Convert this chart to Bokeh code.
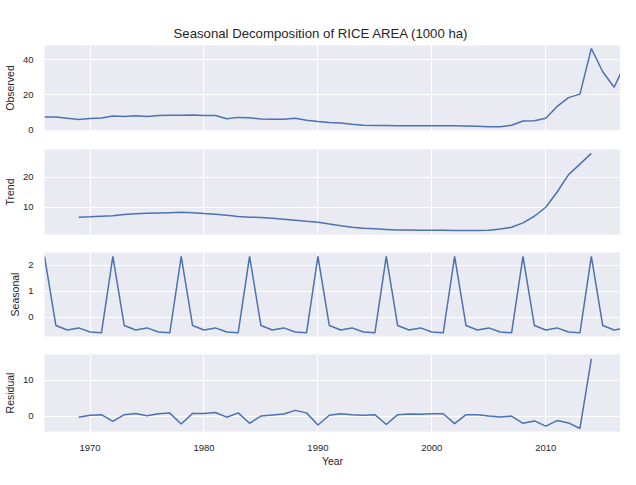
from bokeh.plotting import figure
from bokeh.layouts import column
from bokeh.models import FixedTicker, Range1d, Title
from bokeh.embed import file_html
from bokeh.resources import INLINE

# ---- data ----
years = list(range(1966, 2018))
observed = [7.4, 7.4, 6.7, 6.0, 6.5, 6.8, 8.0, 7.7, 8.1, 7.7,
            8.2, 8.4, 8.4, 8.6, 8.2, 8.3, 6.4, 7.2, 7.0, 6.3,
            6.2, 6.2, 6.7, 5.6, 4.8, 4.3, 4.0, 3.3, 2.7, 2.6,
            2.6, 2.5, 2.5, 2.4, 2.4, 2.4, 2.4, 2.3, 2.1, 1.9,
            1.9, 2.7, 5.1, 5.3, 6.7, 13.4, 18.4, 20.4, 46.3, 33.1,
            24.3, 38.0]

years_inner = list(range(1969, 2015))
trend = [6.7, 6.8, 7.0, 7.2, 7.6, 7.8, 8.0, 8.1, 8.2, 8.3,
         8.2, 7.9, 7.7, 7.3, 6.9, 6.7, 6.6, 6.3, 6.0, 5.7,
         5.3, 5.0, 4.4, 3.8, 3.3, 3.0, 2.8, 2.6, 2.4, 2.4,
         2.3, 2.3, 2.3, 2.2, 2.2, 2.2, 2.3, 2.7, 3.3, 4.8,
         7.0, 10.0, 15.1, 20.9, 24.4, 28.0]

seasonal = [2.34, -0.31, -0.48, -0.40, -0.56, -0.59,
            2.34, -0.31, -0.48, -0.40, -0.56, -0.59,
            2.34, -0.31, -0.48, -0.40, -0.56, -0.59,
            2.34, -0.31, -0.48, -0.40, -0.56, -0.59,
            2.34, -0.31, -0.48, -0.40, -0.56, -0.59,
            2.34, -0.31, -0.48, -0.40, -0.56, -0.59,
            2.34, -0.31, -0.48, -0.40, -0.56, -0.59,
            2.34, -0.31, -0.48, -0.40, -0.56, -0.59,
            2.34, -0.31, -0.48, -0.40]

residual = [-0.3, 0.25, 0.4, -1.5, 0.4, 0.75, 0.1, 0.67, 0.84, -2.2,
            0.75, 0.75, 1.0, -0.3, 0.9, -2.0, 0.0, 0.33, 0.6, 1.6,
            0.9, -2.5, 0.25, 0.67, 0.4, 0.25, 0.4, -2.35, 0.4, 0.6,
            0.5, 0.67, 0.67, -2.1, 0.4, 0.4, 0.0, -0.25, 0.0, -2.0,
            -1.35, -2.8, -1.25, -1.9, -3.45, 16.0]

x_ticks = [1970, 1980, 1990, 2000, 2010]
title_text = "Seasonal Decomposition of RICE AREA (1000 ha)"

# ---- style ----
BG = "#EAEAF2"
LINE = "#4C72B0"
TXT = "#262626"
FONT = "Liberation Sans"

x_range = Range1d(1966, 2016.56)


def make_fig(height, ylabel, yr, yticks, top, bottom, show_x):
    p = figure(width=620, height=height, output_backend="svg", toolbar_location=None,
               x_range=x_range, y_range=Range1d(*yr),
               min_border_left=35, min_border_right=0,
               min_border_top=top, min_border_bottom=bottom)
    p.background_fill_color = BG
    p.border_fill_color = "white"
    p.outline_line_color = None
    p.xgrid.ticker = FixedTicker(ticks=x_ticks)
    p.ygrid.ticker = FixedTicker(ticks=yticks)
    p.grid.grid_line_color = "white"
    p.grid.grid_line_width = 1
    for ax in (p.xaxis[0], p.yaxis[0]):
        ax.axis_line_color = None
        ax.major_tick_line_color = None
        ax.minor_tick_line_color = None
        ax.major_label_text_font = FONT
        ax.major_label_text_font_size = "9.5px"
        ax.major_label_text_color = TXT
        ax.axis_label_text_font = FONT
        ax.axis_label_text_font_size = "10.5px"
        ax.axis_label_text_font_style = "normal"
        ax.axis_label_text_color = TXT
    p.yaxis.ticker = FixedTicker(ticks=yticks)
    p.yaxis.axis_label = ylabel
    p.yaxis.major_label_standoff = 5
    p.yaxis.axis_label_standoff = 4
    p.xaxis.ticker = FixedTicker(ticks=x_ticks)
    if show_x:
        p.xaxis.axis_label = "Year"
        p.xaxis.major_label_standoff = 7
        p.xaxis.axis_label_standoff = 1
    else:
        p.xaxis.visible = False
    return p


p1 = make_fig(139, "Observed", (-0.25, 48.0), [0, 20, 40], 45, 9, False)
p1.line(years, observed, line_color=LINE, line_width=1.5)
t = Title(text=title_text, align="left", offset=129, standoff=9,
          text_font=FONT, text_font_size="13.2px", text_font_style="normal",
          text_color=TXT)
p1.add_layout(t, "above")

p2 = make_fig(104, "Trend", (0.9, 29.3), [10, 20], 10, 9, False)
p2.line(years_inner, trend, line_color=LINE, line_width=1.5)

p3 = make_fig(102, "Seasonal", (-0.73, 2.49), [0, 1, 2], 9, 9, False)
p3.line(years, seasonal, line_color=LINE, line_width=1.5)

p4 = make_fig(124, "Residual", (-4.3, 17.2), [0, 10], 9, 30, True)
p4.line(years_inner, residual, line_color=LINE, line_width=1.5)

layout = column(p1, p2, p3, p4, spacing=0)
open("out.html", "w").write(file_html(layout, INLINE))
